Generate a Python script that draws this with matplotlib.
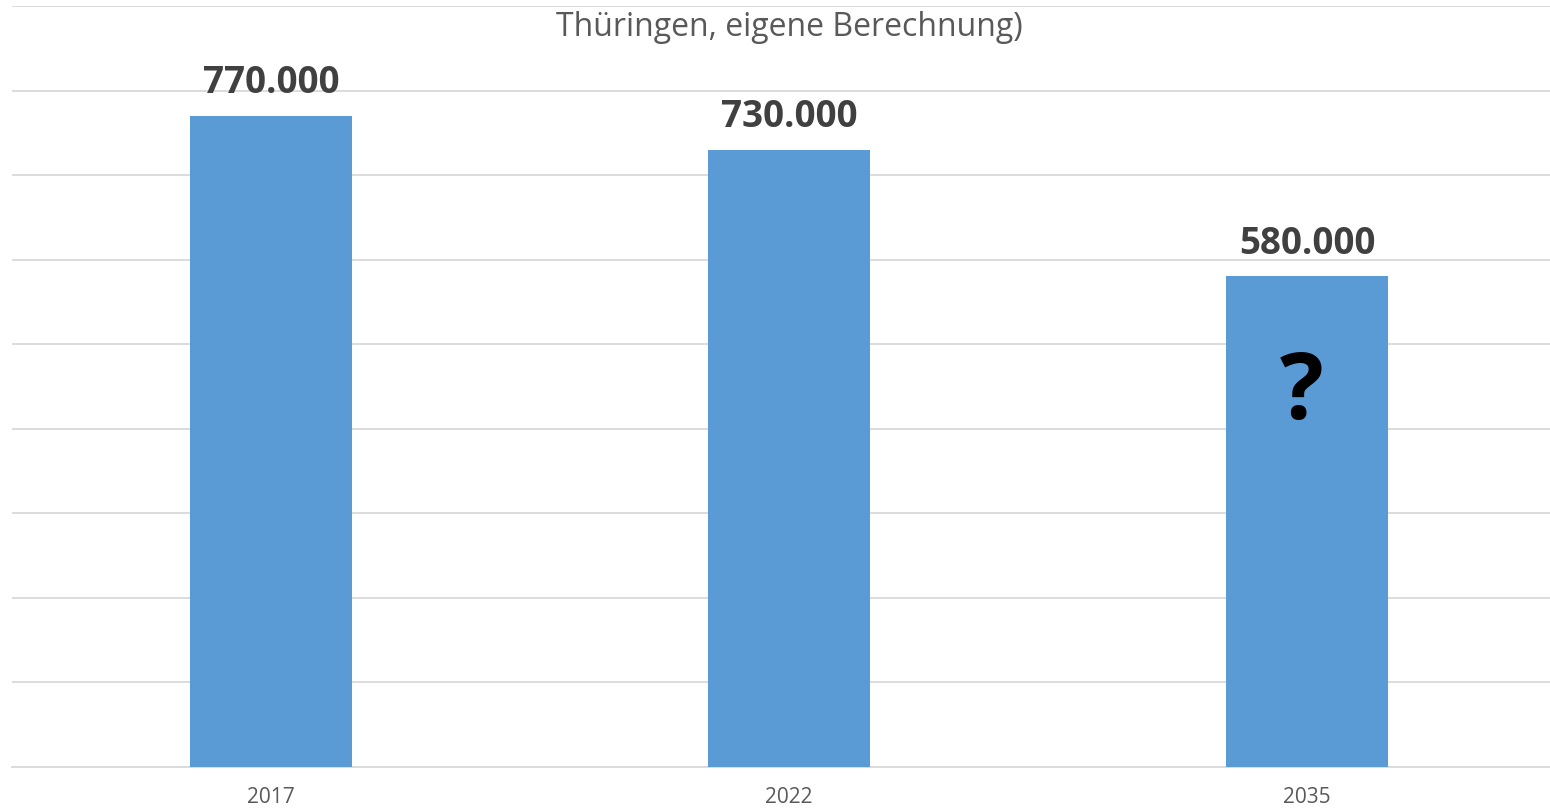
import numpy as np
import matplotlib.pyplot as plt

plt.rcParams['font.family'] = ['Open Sans', 'DejaVu Sans']

# Daten
jahre = ['2017', '2022', '2035']
werte = np.array([770000, 730000, 580000])
beschriftungen = ['770.000', '730.000', '580.000']

fig = plt.figure(figsize=(15.5, 8.1), dpi=100)
ax = fig.add_axes([12 / 1550, 43.5 / 810, 1554 / 1550, 760.5 / 810])

x = np.arange(len(jahre))
ax.bar(x, werte, width=0.313, color='#5B9BD5', zorder=3)

# Wertebeschriftungen
for xi, w, t in zip(x, werte, beschriftungen):
    ax.annotate(t, (xi, w), xytext=(0, 10), textcoords='offset points',
                ha='center', va='bottom', fontsize=26.5, fontweight='bold',
                color='#404040')

# Fragezeichen im letzten Balken
ax.text(x[-1] - 0.01, 440000, '?', ha='center', va='center', fontsize=66,
        fontweight='bold', color='black', zorder=4)

ax.set_xlim(-0.5, 2.5)
ax.set_ylim(0, 900000)
ax.set_yticks(np.arange(0, 900001, 100000))
ax.yaxis.grid(True, color='#D9D9D9', linewidth=1.3, zorder=0)
ax.set_yticklabels([])
ax.tick_params(axis='y', length=0)
ax.set_xticks(x)
ax.set_xticklabels(jahre, fontsize=15, color='#595959')
ax.tick_params(axis='x', length=0, pad=15)
for s in ['top', 'right', 'left']:
    ax.spines[s].set_visible(False)
ax.spines['bottom'].set_color('#D9D9D9')
ax.spines['bottom'].set_linewidth(1.3)

fig.text(789 / 1550, 1 - 28 / 810, 'Thüringen, eigene Berechnung)',
         ha='center', va='center', fontsize=23, color='#595959')

fig.savefig('out.png', dpi=100)
